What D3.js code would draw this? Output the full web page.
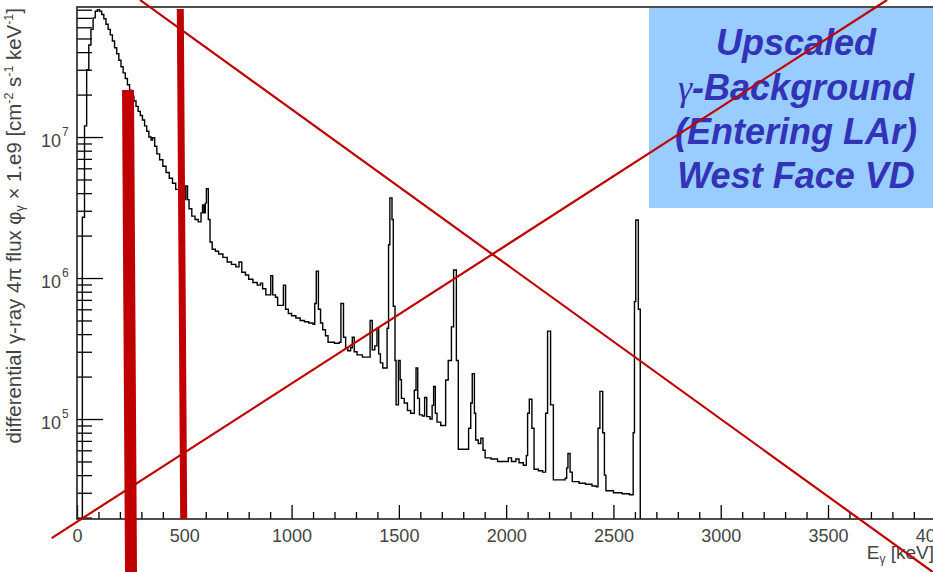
<!DOCTYPE html>
<html><head><meta charset="utf-8">
<script src="https://cdn.jsdelivr.net/npm/d3@7"></script>
<style>html,body{margin:0;padding:0;background:#fff;overflow:hidden}</style>
</head><body>
<svg id="chart" width="933" height="572"></svg>
<script>
// ---- data ----
const binStartKeV = [0,25,35,45,55,65,75,85,95,105,115,125,135,145,155,165,175,185,195,205,215,225,235,245,255,265,275,285,295,305,315,325,335,345,352,362,372,385,400,415,430,445,460,475,490,502,507,515,522,535,550,565,578,585,592,598,603,612,620,630,645,660,680,700,720,740,755,768,785,800,820,840,855,865,880,895,903,912,925,935,950,962,972,985,1000,1020,1040,1060,1080,1100,1108,1115,1125,1135,1145,1158,1170,1200,1222,1230,1242,1252,1262,1275,1283,1292,1305,1330,1355,1366,1376,1388,1398,1406,1414,1425,1445,1452,1458,1468,1474,1482,1487,1498,1506,1512,1525,1540,1555,1572,1580,1588,1596,1610,1620,1630,1645,1655,1662,1670,1678,1695,1710,1718,1730,1745,1755,1768,1777,1825,1835,1842,1852,1858,1870,1882,1892,1902,1930,1960,1990,2010,2025,2045,2060,2080,2094,2100,2108,2120,2130,2150,2170,2184,2193,2207,2220,2250,2275,2282,2288,2298,2308,2340,2370,2400,2420,2428,2437,2450,2458,2465,2500,2540,2575,2592,2598,2604,2616,2625,2640];
const fluxValues = [1.0e4,2.7e6,1.2e7,3.0e7,4.5e7,5.8e7,7.0e7,7.8e7,8.0e7,7.8e7,7.4e7,6.9e7,6.3e7,5.8e7,5.3e7,4.8e7,4.3e7,3.9e7,3.5e7,3.15e7,2.85e7,2.6e7,2.35e7,2.15e7,1.95e7,1.8e7,1.65e7,1.52e7,1.42e7,1.32e7,1.2e7,1.1e7,1.0e7,9.5e6,9.9e6,8.6e6,7.6e6,6.9e6,6.2e6,5.6e6,5.1e6,4.7e6,4.25e6,3.95e6,3.75e6,3.6e6,4.5e6,3.6e6,3.1e6,2.75e6,2.6e6,2.5e6,2.9e6,3.3e6,2.9e6,3.4e6,4.3e6,2.6e6,1.8e6,1.6e6,1.55e6,1.48e6,1.4e6,1.3e6,1.25e6,1.2e6,1.3e6,1.1e6,1.05e6,9.8e5,9.3e5,8.9e5,9.2e5,8.4e5,7.6e5,7.6e5,1.04e6,7.6e5,7.3e5,6.4e5,6.4e5,8.9e5,6.0e5,5.6e5,5.4e5,5.2e5,5.0e5,4.9e5,4.8e5,4.7e5,6.6e5,1.12e6,6.0e5,4.8e5,4.3e5,3.9e5,3.5e5,3.45e5,3.5e5,6.6e5,3.8e5,3.2e5,3.05e5,3.2e5,3.8e5,3.0e5,2.85e5,2.75e5,2.75e5,5.0e5,3.1e5,3.3e5,4.4e5,2.9e5,2.5e5,2.3e5,4.4e5,1.72e6,3.7e6,2.6e6,6.3e5,2.6e5,1.26e5,2.6e5,1.9e5,1.4e5,1.3e5,1.15e5,1.1e5,1.6e5,2.3e5,1.4e5,1.07e5,1.05e5,1.42e5,1.04e5,1.0e5,1.25e5,1.7e5,1.1e5,9.5e4,9.0e4,9.0e4,1.89e5,2.6e5,4.5e5,1.14e6,2.6e5,6.1e4,8.6e4,1.3e5,2.1e5,1.1e5,7.1e4,6.7e4,7.3e4,6.0e4,5.3e4,5.2e4,5.0e4,5.0e4,5.3e4,5.0e4,5.2e4,4.9e4,4.7e4,5.5e4,1.1e5,1.38e5,8.6e4,4.4e4,4.3e4,4.2e4,1.1e5,4.2e5,1.26e5,3.7e4,3.7e4,3.8e4,4.5e4,5.7e4,4.2e4,3.6e4,3.5e4,3.45e4,3.35e4,3.3e4,8.6e4,1.57e5,8.0e4,4.0e4,3.1e4,3.0e4,2.95e4,2.9e4,8.0e4,6.8e5,2.58e6,6.0e5,1.0e3,1.0e3];

const xMajorTicks = [0,500,1000,1500,2000,2500,3000,3500,4000];
const xTickLabels = ["0","500","1000","1500","2000","2500","3000","3500","4000"];
const yDecades = [1e5,1e6,1e7];
const yDecadeExponents = ["5","6","7"];
const xDomain = [0,4000];
const yDomain = [1.954e4,8.36e7];

const boxLines = ["Upscaled","-Background","(Entering LAr)","West Face VD"];

// hand-drawn red annotation strokes, in data coordinates [keV, flux]
const strikeLineA = [[293.6,9.38e7],[3989,8.2e3]];
const strikeLineB = [[-118,1.43e4],[3775,9.38e7]];
const markerBarThick = [[237.7,2.154e7],[251.7,8.2e3]];
const markerBarThin = [[481.4,8.09e7],[497.3,1.954e4]];

// ---- drawing ----
const svg = d3.select("#chart");
const L = 77, T = 7, B = 519, R = 935.3;
const x = d3.scaleLinear().domain(xDomain).range([L,R]);
const y = d3.scaleLog().domain(yDomain).range([B,T]);
const font = "'Liberation Sans', Arial, Helvetica, sans-serif";

svg.append("defs").append("clipPath").attr("id","plotclip")
  .append("rect").attr("x",L).attr("y",T).attr("width",R-L).attr("height",B-T);

// histogram
const hist = binStartKeV.map((e,i)=>[e,fluxValues[i]]);
const line = d3.line().x(d=>x(d[0])).y(d=>y(d[1])).curve(d3.curveStepAfter);
svg.append("path").datum(hist).attr("clip-path","url(#plotclip)")
  .attr("d",line).attr("fill","none").attr("stroke","#000").attr("stroke-width",1.4);

// x axis (ticks inside)
const xMinor = d3.range(0,4001,100).filter(v=>v%500!==0);
const gxm = svg.append("g").attr("transform",`translate(0,${B})`)
  .call(d3.axisBottom(x).tickValues(xMinor).tickSize(-7).tickSizeOuter(0).tickFormat(""));
const gx = svg.append("g").attr("transform",`translate(0,${B})`)
  .call(d3.axisBottom(x).tickValues(xMajorTicks).tickSize(-14).tickSizeOuter(0)
    .tickPadding(10).tickFormat((d,i)=>xTickLabels[i]));
[gxm,gx].forEach(g=>{g.select(".domain").remove();
  g.selectAll("line").attr("stroke","#000").attr("stroke-width",1.3);});
gx.selectAll("text").attr("font-family",font).attr("font-size",18).attr("fill","#444").attr("dy","0.71em");

// y axis (ticks inside)
const yMinor = [];
[1e4,1e5,1e6,1e7].forEach(d=>{for(let k=2;k<=9;k++){const v=d*k; if(v>=yDomain[0]&&v<=yDomain[1]) yMinor.push(v);}});
const gym = svg.append("g").attr("transform",`translate(${L},0)`)
  .call(d3.axisLeft(y).tickValues(yMinor).tickSize(-15).tickSizeOuter(0).tickFormat(""));
const gy = svg.append("g").attr("transform",`translate(${L},0)`)
  .call(d3.axisLeft(y).tickValues(yDecades).tickSize(-26).tickSizeOuter(0).tickFormat(""));
[gym,gy].forEach(g=>{g.select(".domain").remove();
  g.selectAll("line").attr("stroke","#000").attr("stroke-width",1.3);});
yDecades.forEach((v,i)=>{
  svg.append("text").attr("x",61).attr("y",y(v)+9.5)
    .attr("font-family",font).attr("font-size",18).attr("fill","#444").attr("text-anchor","end").text("10");
  svg.append("text").attr("x",62).attr("y",y(v)-1)
    .attr("font-family",font).attr("font-size",12).attr("fill","#444").text(yDecadeExponents[i]);
});

// frame
svg.append("rect").attr("x",L).attr("y",T).attr("width",R-L).attr("height",B-T)
  .attr("fill","none").attr("stroke","#222").attr("stroke-width",1.6);

// axis titles
const xt = svg.append("text").attr("x",934).attr("y",559).attr("text-anchor","end")
  .attr("font-family",font).attr("font-size",19).attr("fill","#444");
xt.append("tspan").text("E");
xt.append("tspan").attr("font-size",12).attr("dy",4).text("γ");
xt.append("tspan").attr("dy",-4).text("  [keV]");

const yt = svg.append("text").attr("transform","translate(21,8) rotate(-90)")
  .attr("text-anchor","end").attr("font-family",font).attr("font-size",20.4).attr("fill","#444");
yt.append("tspan").text("differential γ-ray 4π flux φ");
yt.append("tspan").attr("font-size",12.5).attr("dy",3).text("γ");
yt.append("tspan").attr("dy",-3).text(" × 1.e9  [cm");
yt.append("tspan").attr("font-size",12.5).attr("dy",-8).text("-2");
yt.append("tspan").attr("dy",8).text(" s");
yt.append("tspan").attr("font-size",12.5).attr("dy",-8).text("-1");
yt.append("tspan").attr("dy",8).text(" keV");
yt.append("tspan").attr("font-size",12.5).attr("dy",-8).text("-1");
yt.append("tspan").attr("dy",8).text("]");

// annotation box
svg.append("rect").attr("x",649).attr("y",8).attr("width",300).attr("height",200).attr("fill","#99ccff");
const baselines = [55,99.5,144,187.5];
boxLines.forEach((s,i)=>{
  const t = svg.append("text").attr("x",796).attr("y",baselines[i]).attr("text-anchor","middle")
    .attr("font-family",font).attr("font-size",36).attr("font-weight","bold").attr("font-style","italic")
    .attr("fill","#3333b8");
  if(i===1){ t.append("tspan").attr("font-family","'Liberation Serif','Times New Roman',serif").attr("font-weight","normal").text("γ"); }
  t.append("tspan").text(s);
});

// red annotation strokes
const red = "#c00000";
const seg = d3.line().x(d=>x(d[0])).y(d=>y(d[1]));
svg.append("path").attr("d",seg(markerBarThick)).attr("stroke",red).attr("stroke-width",12).attr("fill","none");
svg.append("path").attr("d",seg(markerBarThin)).attr("stroke",red).attr("stroke-width",7).attr("fill","none");
svg.append("path").attr("d",seg(strikeLineA)).attr("stroke",red).attr("stroke-width",2.2).attr("fill","none");
svg.append("path").attr("d",seg(strikeLineB)).attr("stroke",red).attr("stroke-width",2.2).attr("fill","none");
</script>
</body></html>
